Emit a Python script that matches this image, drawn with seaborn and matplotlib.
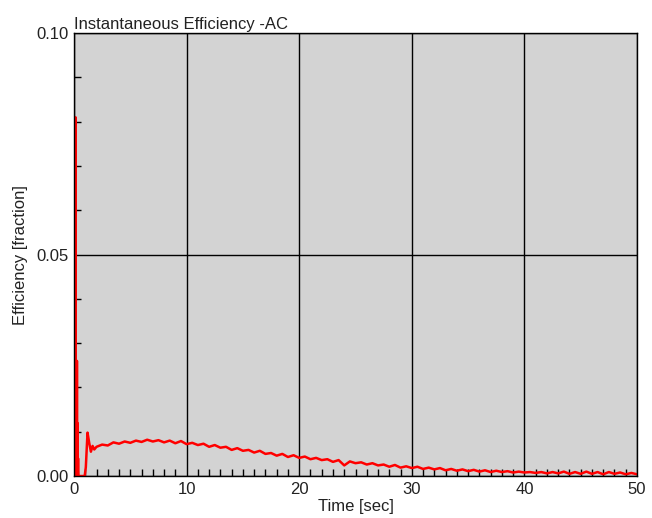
import matplotlib
matplotlib.use("Agg")
import matplotlib.pyplot as plt
import seaborn as sns
import pandas as pd
from matplotlib.ticker import MultipleLocator

# ---- data ----
t_start = [0.00, 0.02, 0.04, 0.06, 0.08, 0.10, 0.12, 0.14, 0.16, 0.18, 0.20, 0.22,
           0.24, 0.26, 0.28, 0.30, 0.32, 0.36, 0.40,
           0.95, 1.05, 1.20, 1.35, 1.50, 1.65, 1.80]
eff_start = [0.0, 0.018, 0.002, 0.017, 0.001, 0.016, 0.0, 0.081, 0.0, 0.015, 0.001, 0.014,
             0.0, 0.026, 0.0, 0.012, 0.0, 0.004, 0.0,
             0.0, 0.002, 0.0098, 0.0075, 0.0055, 0.0068, 0.0060]

t_main = [2.0 + 0.5 * i for i in range(97)]
eff_main = [
    0.0066, 0.0071, 0.0069, 0.0076, 0.0073, 0.0078, 0.0075, 0.0080, 0.0077, 0.0082,
    0.0078, 0.0081, 0.0076, 0.0080, 0.0074, 0.0079, 0.0072, 0.0075, 0.0070, 0.0073,
    0.0066, 0.0070, 0.0064, 0.0066, 0.0059, 0.0063, 0.0057, 0.0059, 0.0053, 0.0057,
    0.0050, 0.0052, 0.0046, 0.0050, 0.0043, 0.0047, 0.0041, 0.0044, 0.0038, 0.0041,
    0.0036, 0.0038, 0.0032, 0.0036, 0.0024, 0.0033, 0.0029, 0.0031, 0.0026, 0.0029,
    0.0024, 0.0026, 0.0021, 0.0025, 0.0019, 0.0022, 0.0018, 0.0021, 0.0016, 0.0019,
    0.0015, 0.0018, 0.0013, 0.0016, 0.0012, 0.0015, 0.0011, 0.0014, 0.0010, 0.0013,
    0.0009, 0.0012, 0.0009, 0.0011, 0.0008, 0.0010, 0.0008, 0.0009, 0.0007, 0.0009,
    0.0006, 0.0009, 0.0006, 0.0010, 0.0005, 0.0009, 0.0005, 0.0010, 0.0005, 0.0009,
    0.0004, 0.0009, 0.0005, 0.0008, 0.0004, 0.0007, 0.0004,
]

x_ticks = [0, 10, 20, 30, 40, 50]
y_ticks = [0.00, 0.05, 0.10]
y_tick_labels = ["0.00", "0.05", "0.10"]

df = pd.DataFrame({"Time": t_start + t_main, "Eff": eff_start + eff_main})

sns.set_theme(style="white")
plt.rcParams["font.family"] = ["Liberation Sans", "DejaVu Sans"]

fig = plt.figure(figsize=(6.52, 5.18), dpi=100)
ax = fig.add_axes([0.1135, 0.081, 0.8635, 0.855])
ax.set_facecolor("#d3d3d3")

sns.lineplot(data=df, x="Time", y="Eff", ax=ax, color="#ff0000", linewidth=1.8,
             sort=False, estimator=None)

ax.set_xlim(0, 50)
ax.set_ylim(0, 0.10)
ax.set_xticks(x_ticks)
ax.set_yticks(y_ticks)
ax.set_yticklabels(y_tick_labels)
ax.xaxis.set_minor_locator(MultipleLocator(1))
ax.yaxis.set_minor_locator(MultipleLocator(0.01))
ax.tick_params(axis="both", which="major", length=0, labelsize=12, colors="#222222", pad=4)
ax.tick_params(axis="both", which="minor", direction="in", length=5, width=1, color="black",
               bottom=True, left=True)
ax.grid(True, which="major", color="black", linewidth=1)
ax.set_axisbelow(True)
for s in ax.spines.values():
    s.set_color("black")
    s.set_linewidth(1)

ax.set_xlabel("Time [sec]", fontsize=12, color="#222222", labelpad=2)
ax.set_ylabel("Efficiency [fraction]", fontsize=12, color="#222222", labelpad=6)
ax.set_title("Instantaneous Efficiency -AC", loc="left", fontsize=12, color="#222222", pad=3)

fig.savefig("out.png", dpi=100)
